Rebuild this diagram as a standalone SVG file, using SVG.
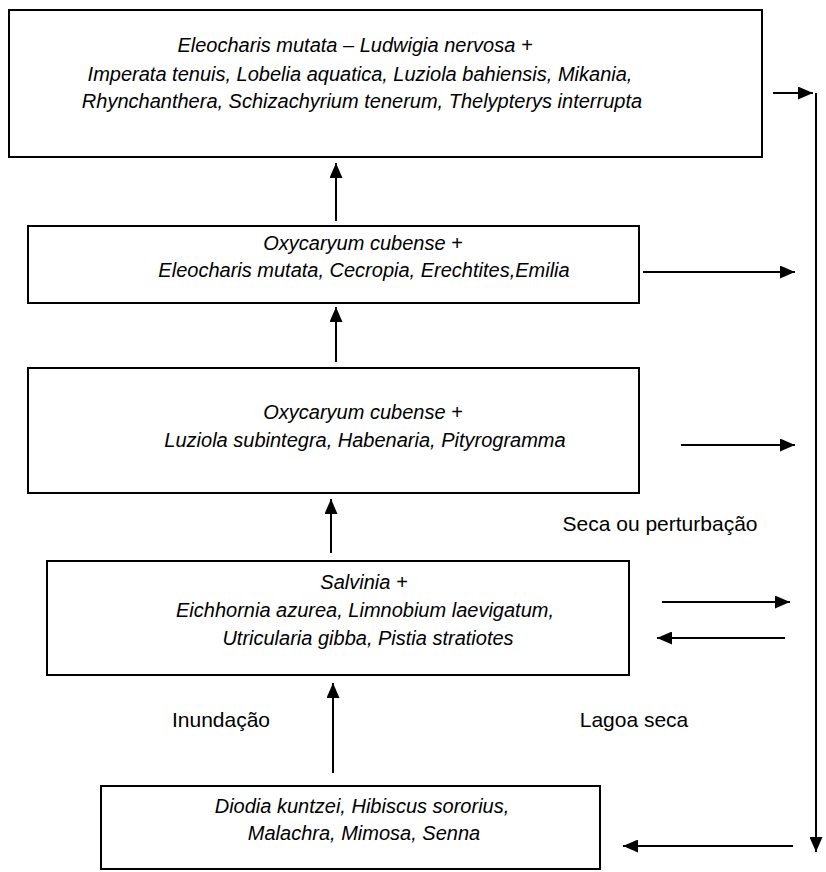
<svg xmlns="http://www.w3.org/2000/svg" width="826" height="872" viewBox="0 0 826 872">
<style>
.box{fill:#fff;stroke:#000;stroke-width:2}
.t{font-family:"Liberation Sans",Arial,sans-serif;font-style:italic;font-size:20px;fill:#000}
.l{font-family:"Liberation Sans",Arial,sans-serif;font-size:21px;fill:#000}
.c{fill:none;stroke:#000;stroke-width:2}
</style>
<defs>
<marker id="ah" viewBox="0 0 15 13" refX="15" refY="6.5" markerWidth="7.5" markerHeight="6.5" markerUnits="strokeWidth" orient="auto">
<path d="M0,0 L15,6.5 L0,13 Z" fill="#000"/>
</marker>
</defs>
<rect width="826" height="872" fill="#fff"/>
<g id="n1">
<rect class="box" x="9" y="10" width="753" height="147"/>
<text class="t" x="355" y="52" text-anchor="middle">Eleocharis mutata – Ludwigia nervosa +</text>
<text class="t" x="360" y="81" text-anchor="middle">Imperata tenuis, Lobelia aquatica, Luziola bahiensis, Mikania,</text>
<text class="t" x="362" y="108" text-anchor="middle">Rhynchanthera, Schizachyrium tenerum, Thelypterys interrupta</text>
</g>
<g id="n2">
<rect class="box" x="28" y="226" width="611" height="77"/>
<text class="t" x="363" y="250" text-anchor="middle">Oxycaryum cubense +</text>
<text class="t" x="364" y="277" text-anchor="middle">Eleocharis mutata, Cecropia, Erechtites,Emilia</text>
</g>
<g id="n3">
<rect class="box" x="28" y="368" width="611" height="125"/>
<text class="t" x="363" y="419" text-anchor="middle">Oxycaryum cubense +</text>
<text class="t" x="365" y="447" text-anchor="middle">Luziola subintegra, Habenaria,  Pityrogramma</text>
</g>
<g id="n4">
<rect class="box" x="47" y="561" width="582" height="114"/>
<text class="t" x="364" y="589" text-anchor="middle">Salvinia +</text>
<text class="t" x="365" y="617" text-anchor="middle">Eichhornia azurea, Limnobium laevigatum,</text>
<text class="t" x="368" y="645" text-anchor="middle">Utricularia gibba, Pistia stratiotes</text>
</g>
<g id="n5">
<rect class="box" x="101" y="786" width="499" height="83"/>
<text class="t" x="362" y="813" text-anchor="middle">Diodia kuntzei, Hibiscus sororius,</text>
<text class="t" x="364" y="840" text-anchor="middle">Malachra, Mimosa, Senna</text>
</g>
<g id="labels">
<text class="l" x="660" y="531" text-anchor="middle">Seca ou perturbação</text>
<text class="l" x="221" y="727" text-anchor="middle">Inundação</text>
<text class="l" x="634" y="727" text-anchor="middle">Lagoa seca</text>
</g>
<g id="connectors">
<line class="c" x1="336" y1="221" x2="336" y2="163" marker-end="url(#ah)"/>
<line class="c" x1="336" y1="362" x2="336" y2="307" marker-end="url(#ah)"/>
<line class="c" x1="331" y1="553" x2="331" y2="499" marker-end="url(#ah)"/>
<line class="c" x1="333" y1="773" x2="333" y2="683" marker-end="url(#ah)"/>
<line class="c" x1="773" y1="93" x2="813" y2="93" marker-end="url(#ah)"/>
<line class="c" x1="816" y1="93" x2="816" y2="852" marker-end="url(#ah)"/>
<line class="c" x1="643" y1="272" x2="795" y2="272" marker-end="url(#ah)"/>
<line class="c" x1="681" y1="445" x2="795" y2="445" marker-end="url(#ah)"/>
<line class="c" x1="662" y1="602" x2="790" y2="602" marker-end="url(#ah)"/>
<line class="c" x1="785" y1="638" x2="657" y2="638" marker-end="url(#ah)"/>
<line class="c" x1="793" y1="846" x2="623" y2="846" marker-end="url(#ah)"/>
</g>
</svg>
